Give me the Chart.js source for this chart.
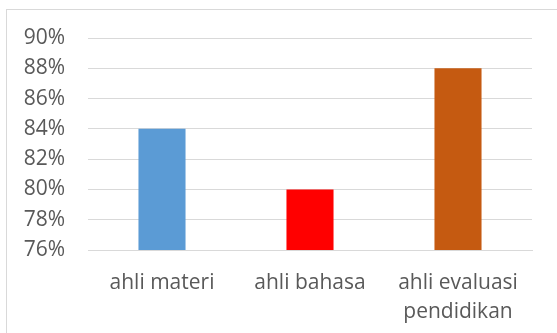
<!DOCTYPE html>
<html>
<head>
<meta charset="utf-8">
<script src="https://cdn.jsdelivr.net/npm/chart.js@4"></script>
<style>
  html, body { margin: 0; padding: 0; background: #fff; }
  #wrap { position: relative; width: 557px; height: 333px; overflow: hidden; }
  #frame { position: absolute; left: 6px; top: 9px; width: 600px; height: 400px;
           border-left: 1px solid #d9d9d9; border-top: 1px solid #d9d9d9; }
  canvas { position: absolute; left: 0; top: 0; }
</style>
</head>
<body>
<div id="wrap">
  <div id="frame"></div>
  <canvas id="barChart" width="557" height="333"></canvas>
</div>
<script>
// kategori dan nilai (persen)
const categories = ['ahli materi', 'ahli bahasa', ['ahli evaluasi', 'pendidikan']];
const values = [0.84, 0.80, 0.88];
const barColors = ['#5B9BD5', '#FF0000', '#C55A11'];
const yMin = 0.76;
const yMax = 0.90;
const yStep = 0.02;

const ctx = document.getElementById('barChart').getContext('2d');

new Chart(ctx, {
  type: 'bar',
  data: {
    labels: categories,
    datasets: [{
      data: values,
      backgroundColor: barColors,
      borderWidth: 0,
      categoryPercentage: 1,
      barPercentage: 0.318,
    }],
  },
  options: {
    responsive: false,
    animation: false,
    layout: { padding: { top: 38, right: 25, left: 0, bottom: 0 } },
    plugins: {
      legend: { display: false },
      tooltip: { enabled: false },
    },
    scales: {
      x: {
        grid: { display: false, drawTicks: false },
        border: { color: '#d9d9d9', width: 1 },
        ticks: {
          color: '#595959',
          font: { family: 'Open Sans', size: 21, lineHeight: 1.4 },
          padding: 18,
          maxRotation: 0,
        },
        afterFit: (scale) => { scale.height = 83; },
      },
      y: {
        min: yMin,
        max: yMax,
        grid: { color: '#d9d9d9', lineWidth: 1, drawTicks: false },
        border: { display: false },
        ticks: {
          stepSize: yStep,
          color: '#595959',
          font: { family: 'Open Sans', size: 21 },
          padding: 23,
          callback: function (value) {
            return Math.round(value * 100) + '%';
          },
        },
        afterFit: (scale) => { scale.width = 88; },
      },
    },
  },
});
</script>
</body>
</html>
